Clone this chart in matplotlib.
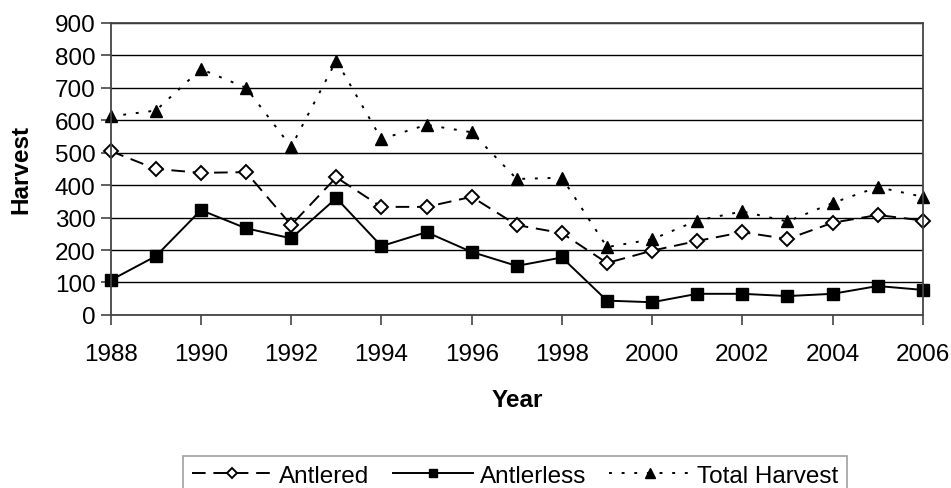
import numpy as np
import matplotlib.pyplot as plt

plt.rcParams['font.family'] = ['Liberation Sans', 'DejaVu Sans']

years = list(range(1988, 2007))
antlered = [505, 450, 438, 440, 277, 424, 333, 333, 364, 277, 252, 160, 198, 228, 255, 234, 284, 308, 291]
antlerless = [107, 181, 323, 267, 236, 360, 212, 255, 194, 151, 177, 44, 39, 65, 65, 58, 65, 89, 77]
total = [612, 630, 758, 700, 518, 784, 542, 586, 563, 419, 423, 209, 233, 291, 319, 288, 345, 394, 364]

fig = plt.figure(figsize=(9.51, 4.89), dpi=100)
ax = fig.add_axes([0.1164, 0.354, 0.854, 0.597])

ax.plot(years, antlered, color='black', lw=1.4, dashes=(7, 4), marker='D', ms=7,
        mfc='white', mec='black', mew=1.4, label='Antlered', clip_on=False)
ax.plot(years, antlerless, color='black', lw=1.4, marker='s', ms=8,
        mfc='black', mec='black', label='Antlerless', clip_on=False)
ax.plot(years, total, color='black', lw=1.4, dashes=(1.5, 5), marker='^', ms=9,
        mfc='black', mec='black', label='Total Harvest', clip_on=False)

ax.set_xlim(1988, 2006)
ax.set_ylim(0, 900)
ax.set_xticks(range(1988, 2007, 2))
ax.set_yticks(range(0, 901, 100))
ax.yaxis.grid(True, color='black', lw=1)
ax.set_axisbelow(True)
for s in ax.spines.values():
    s.set_color('#444444')
    s.set_linewidth(1.3)
ax.tick_params(axis='both', labelsize=17.5, direction='out', length=7, color='#444444', width=1.2)
ax.tick_params(axis='y', pad=4)
ax.tick_params(axis='x', pad=13)

ax.set_xlabel('Year', fontsize=17.5, fontweight='bold', labelpad=17)
ax.set_ylabel('Harvest', fontsize=17.5, fontweight='bold', labelpad=16)

leg = fig.legend(loc='upper center', bbox_to_anchor=(0.5415, 0.09), ncol=3, fontsize=17.5,
                 frameon=True, fancybox=False, edgecolor='#888888', handlelength=3.3,
                 columnspacing=0.95, handletextpad=0.3, borderpad=0.35, markerscale=0.75)
leg.get_frame().set_linewidth(1.2)

fig.savefig('out.png', dpi=100)
